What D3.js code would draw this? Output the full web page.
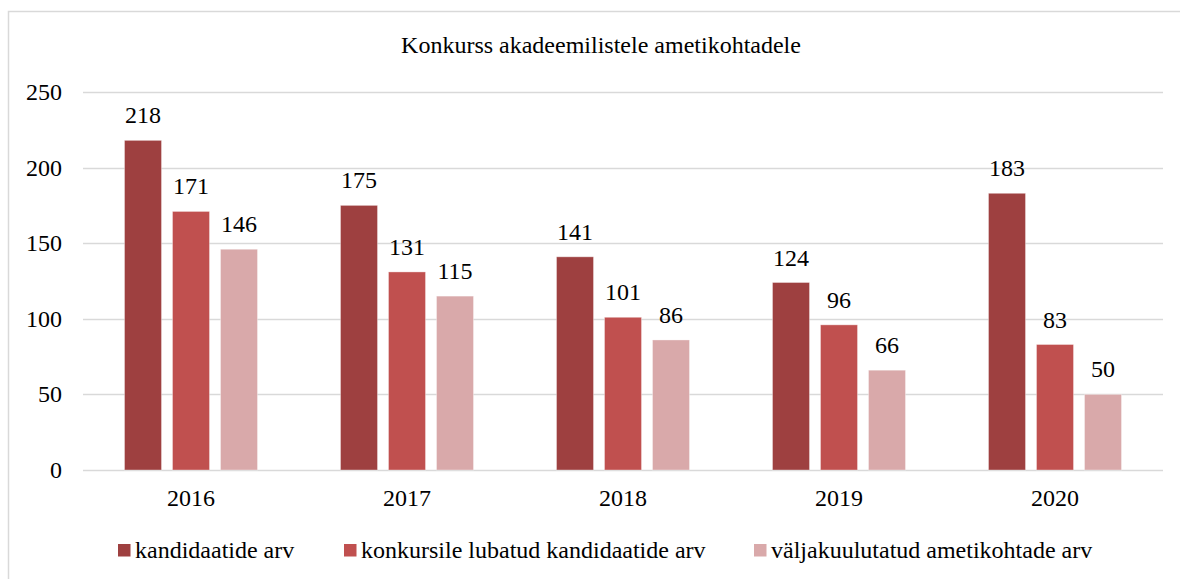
<!DOCTYPE html>
<html><head><meta charset="utf-8">
<script src="https://cdn.jsdelivr.net/npm/d3@7"></script>
<style>body{margin:0;background:#fff}svg{display:block}</style>
</head><body><svg id="c" width="1180" height="579"></svg>
<script>
const title = "Konkurss akadeemilistele ametikohtadele";
const years = ["2016","2017","2018","2019","2020"];
const seriesNames = ["kandidaatide arv","konkursile lubatud kandidaatide arv","väljakuulutatud ametikohtade arv"];
const kandidaadid = [218,175,141,124,183];
const lubatud = [171,131,101,96,83];
const ametikohad = [146,115,86,66,50];
const colors = ["#9e4040","#c0504f","#d9a9aa"];
const yTicks = [0,50,100,150,200,250];

(function(){
const FF = "'Liberation Serif', 'Times New Roman', Tinos, 'DejaVu Serif', serif";
const series = [kandidaadid, lubatud, ametikohad];
const svg = d3.select("#c");
svg.append("path").attr("d","M8.5,579V11.5H1180").attr("fill","none").attr("stroke","#d9d9d9").attr("stroke-width",1.5);

const pL=83,pR=1163,pT=92,pB=470;
const x = d3.scaleBand().domain(years).range([pL,pR]).paddingInner(0).paddingOuter(0);
const y = d3.scaleLinear().domain([0,250]).range([pB,pT]);
const step=48, gap=11;
const xs = d3.scaleBand().domain(d3.range(3)).range([0,3*step-gap]).paddingInner(gap/step).paddingOuter(0);

const T = (sel,size)=>sel.attr("font-family",FF).attr("font-size",size).attr("fill","#000");

T(svg.append("text").attr("x",601).attr("y",53).attr("text-anchor","middle"),24).text(title);

const g = svg.append("g");
g.selectAll("line.grid").data(yTicks).join("line")
  .attr("x1",pL).attr("x2",pR).attr("y1",d=>Math.round(y(d))+0.5).attr("y2",d=>Math.round(y(d))+0.5)
  .attr("stroke","#d9d9d9").attr("stroke-width",1.5);
T(g.selectAll("text.yt").data(yTicks).join("text")
  .attr("x",62).attr("y",d=>y(d)+8).attr("text-anchor","end"),24).text(d=>d);

years.forEach((yr,i)=>{
  const gx = x(yr)+x.bandwidth()/2 - (3*step-gap)/2;
  series.forEach((s,j)=>{
    const bx = gx + xs(j);
    g.append("rect").attr("x",bx).attr("y",y(s[i])).attr("width",xs.bandwidth()).attr("height",y(0)-y(s[i]))
      .attr("fill",colors[j]).attr("stroke","rgba(255,255,255,0.35)").attr("stroke-width",1);
    T(g.append("text").attr("x",bx+xs.bandwidth()/2).attr("y",y(s[i])-17).attr("text-anchor","middle"),24).text(s[i]);
  });
  T(g.append("text").attr("x",x(yr)+x.bandwidth()/2).attr("y",506).attr("text-anchor","middle"),24).text(yr);
});

const legX=[118,344,754];
seriesNames.forEach((n,j)=>{
  svg.append("rect").attr("x",legX[j]).attr("y",544).attr("width",12.5).attr("height",12.5).attr("fill",colors[j]);
  T(svg.append("text").attr("x",legX[j]+17).attr("y",558),24).text(n);
});
})();
</script></body></html>
